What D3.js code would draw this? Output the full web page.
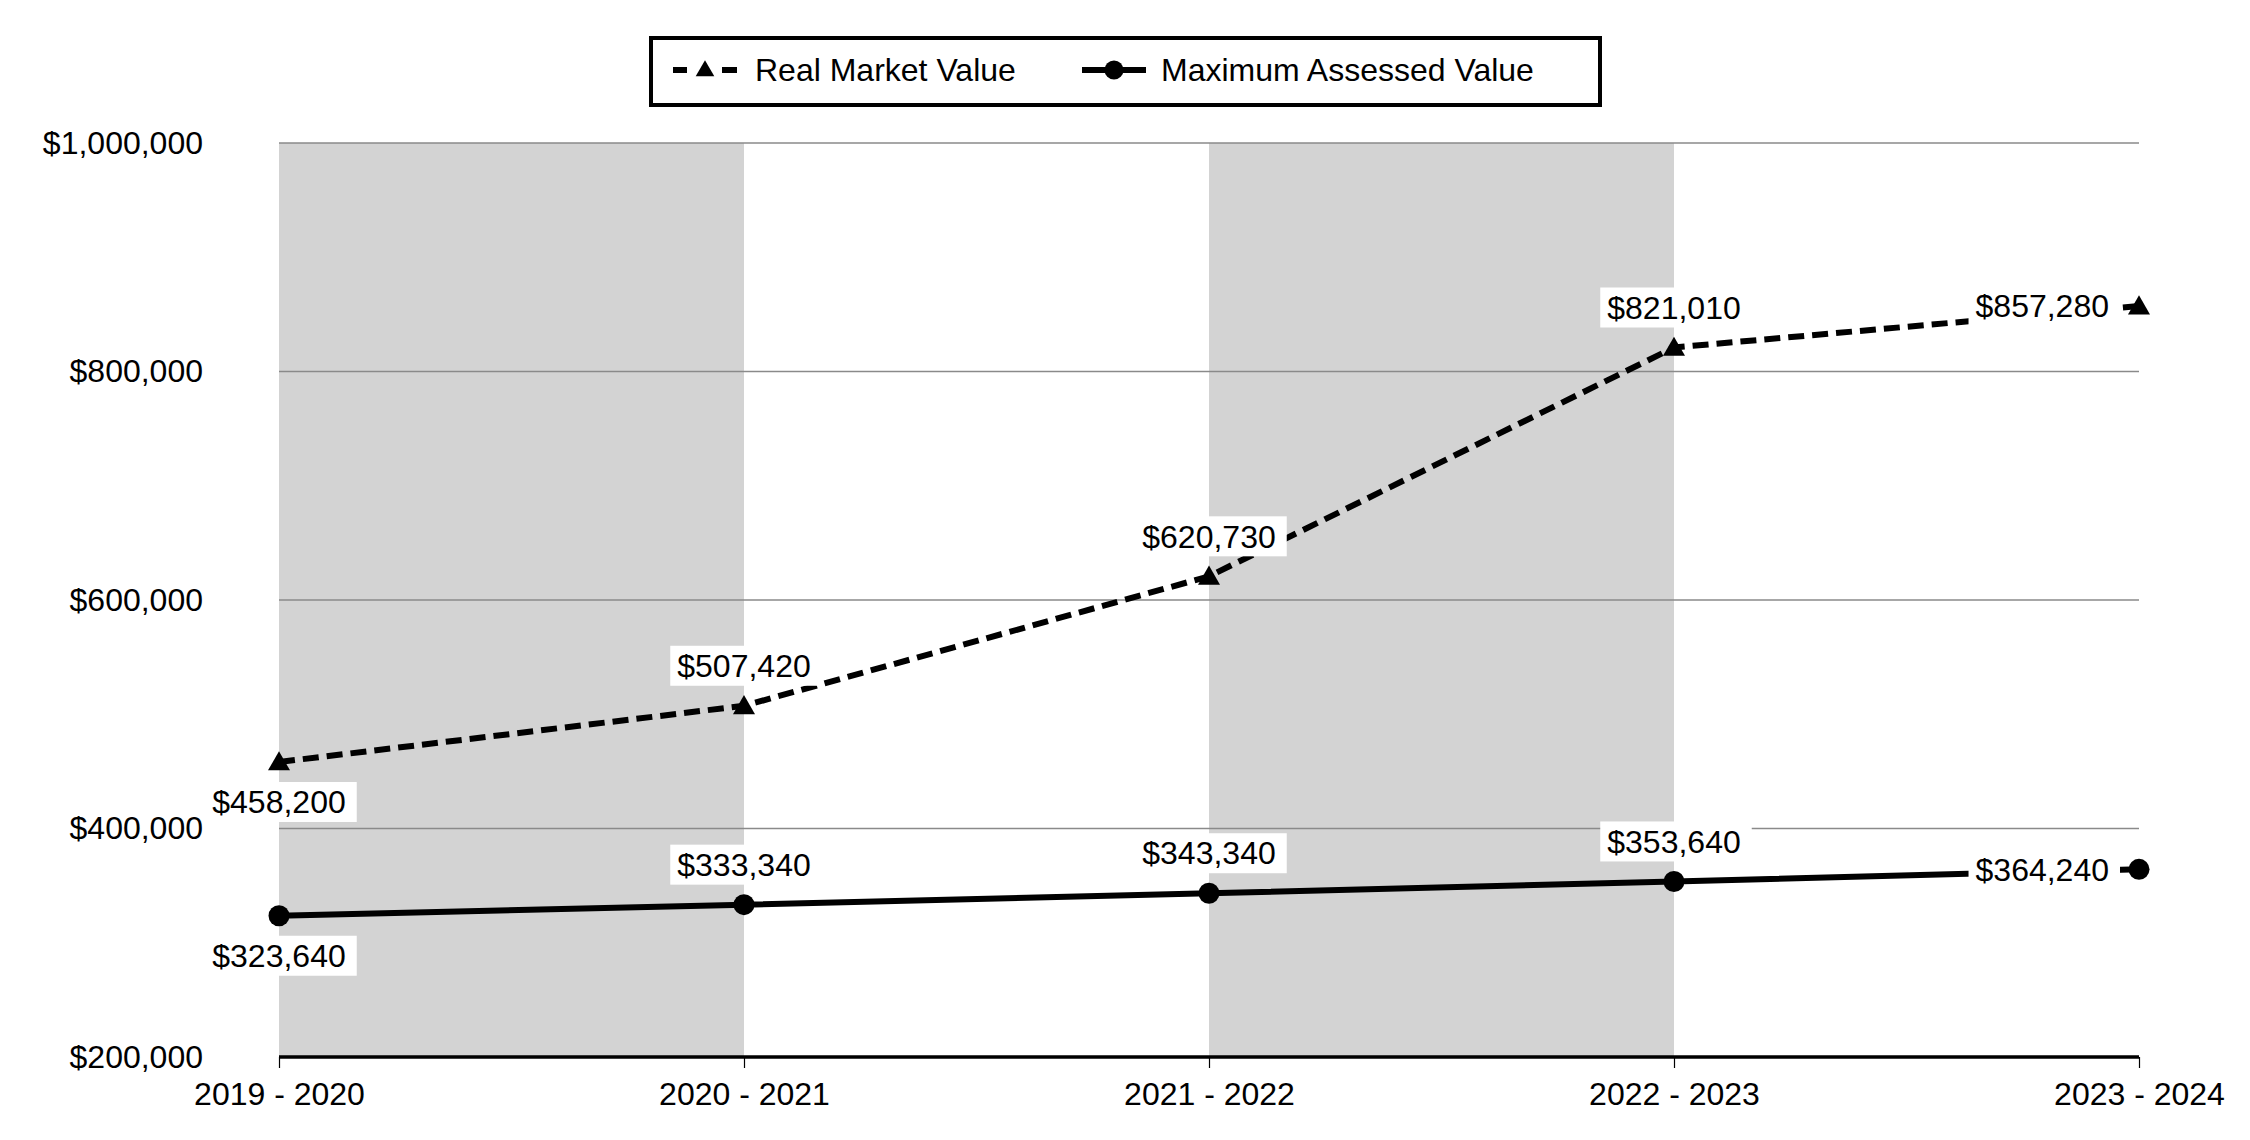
<!DOCTYPE html>
<html>
<head>
<meta charset="utf-8">
<script src="https://cdn.jsdelivr.net/npm/d3@7"></script>
<style>
  html, body { margin: 0; padding: 0; background: #fff; }
  svg { display: block; font-family: "Liberation Sans", Arial, sans-serif; }
</style>
</head>
<body>
<svg id="chart" width="2250" height="1140"></svg>
<script>
const categories = ["2019 - 2020", "2020 - 2021", "2021 - 2022", "2022 - 2023", "2023 - 2024"];
const realMarketValue = [458200, 507420, 620730, 821010, 857280];
const maxAssessedValue = [323640, 333340, 343340, 353640, 364240];
const yTicks = [200000, 400000, 600000, 800000, 1000000];
const shadedBands = [["2019 - 2020", "2020 - 2021"], ["2021 - 2022", "2022 - 2023"]];
const seriesNames = ["Real Market Value", "Maximum Assessed Value"];

(function () {
const svg = d3.select("#chart");
const pLeft = 279, pRight = 2139, pTop = 143, pBottom = 1057;
const FS = 32;

const x = d3.scalePoint().domain(categories).range([pLeft, pRight]).padding(0);
const y = d3.scaleLinear().domain([200000, 1000000]).range([pBottom, pTop]);
const money = v => "$" + d3.format(",")(v);

// shaded bands
svg.append("g").selectAll("rect").data(shadedBands).join("rect")
  .attr("x", d => x(d[0])).attr("width", d => x(d[1]) - x(d[0]))
  .attr("y", pTop).attr("height", pBottom - pTop)
  .attr("fill", "#d3d3d3");

// gridlines
svg.append("g").selectAll("line").data(yTicks.filter(t => t > 200000)).join("line")
  .attr("x1", pLeft).attr("x2", pRight)
  .attr("y1", d => y(d)).attr("y2", d => y(d))
  .attr("stroke", "#8a8a8a").attr("stroke-width", 1.6);

// y axis labels
const yAxis = d3.axisLeft(y).tickValues(yTicks).tickFormat(money).tickSize(0).tickPadding(76);
const gy = svg.append("g").attr("transform", `translate(${pLeft},0)`).call(yAxis);
gy.select(".domain").remove();
gy.selectAll("text").attr("font-size", FS).attr("fill", "#000")
  .attr("font-family", "Liberation Sans, Arial, sans-serif");

// x axis
const xAxis = d3.axisBottom(x).tickSize(11).tickPadding(14);
const gx = svg.append("g").attr("transform", `translate(0,${pBottom})`).call(xAxis);
gx.select(".domain").attr("stroke", "#000").attr("stroke-width", 3.5).attr("d", `M${pLeft},0H${pRight}`);
gx.selectAll(".tick line").attr("stroke", "#000").attr("stroke-width", 1.2);
gx.selectAll("text").attr("font-size", FS).attr("fill", "#000")
  .attr("font-family", "Liberation Sans, Arial, sans-serif");

// lines
const line = d3.line().x((d, i) => x(categories[i])).y(d => y(d));
svg.append("path").datum(realMarketValue).attr("d", line)
  .attr("fill", "none").attr("stroke", "#000").attr("stroke-width", 6)
  .attr("stroke-dasharray", "16,8");
svg.append("path").datum(maxAssessedValue).attr("d", line)
  .attr("fill", "none").attr("stroke", "#000").attr("stroke-width", 6);

// markers
const tri = d3.symbol().type(d3.symbolTriangle).size(210);
svg.append("g").selectAll("path").data(realMarketValue).join("path")
  .attr("d", tri)
  .attr("transform", (d, i) => `translate(${x(categories[i])},${y(d) + 2})`)
  .attr("fill", "#000");
svg.append("g").selectAll("circle").data(maxAssessedValue).join("circle")
  .attr("cx", (d, i) => x(categories[i])).attr("cy", d => y(d)).attr("r", 10.5)
  .attr("fill", "#000");

// data labels
function addLabels(values) {
  const n = values.length;
  values.forEach((v, i) => {
    const px = x(categories[i]), py = y(v);
    const g = svg.append("g");
    const t = g.append("text").text(money(v)).attr("font-size", FS).attr("fill", "#000")
      .attr("dy", "0.35em");
    let tx, ty, anchor;
    if (i === 0) { tx = px; ty = py + 40; anchor = "middle"; }
    else if (i === n - 1) { tx = px - 30; ty = py; anchor = "end"; }
    else { tx = px; ty = py - 40; anchor = "middle"; }
    t.attr("x", tx).attr("y", ty).attr("text-anchor", anchor);
    const w = t.node().getComputedTextLength();
    const tl = anchor === "middle" ? tx - w / 2 : tx - w;
    g.insert("rect", "text")
      .attr("x", tl - 7).attr("width", w + 18)
      .attr("y", ty - 20).attr("height", 40)
      .attr("fill", "#fff");
  });
}
addLabels(realMarketValue);
addLabels(maxAssessedValue);

// legend
const lg = svg.append("g");
lg.append("rect").attr("x", 651).attr("y", 38).attr("width", 949).attr("height", 67)
  .attr("fill", "#fff").attr("stroke", "#000").attr("stroke-width", 4);
const ly = 70;
[[673, 687], [722, 737]].forEach(s => {
  lg.append("line").attr("x1", s[0]).attr("x2", s[1]).attr("y1", ly).attr("y2", ly)
    .attr("stroke", "#000").attr("stroke-width", 6);
});
lg.append("path").attr("d", d3.symbol().type(d3.symbolTriangle).size(150))
  .attr("transform", `translate(705,${ly + 1})`).attr("fill", "#000");
lg.append("text").attr("x", 755).attr("y", ly).attr("dy", "0.35em")
  .attr("font-size", FS).text(seriesNames[0]);
lg.append("line").attr("x1", 1082).attr("x2", 1146).attr("y1", ly).attr("y2", ly)
  .attr("stroke", "#000").attr("stroke-width", 6);
lg.append("circle").attr("cx", 1114).attr("cy", ly).attr("r", 9.5).attr("fill", "#000");
lg.append("text").attr("x", 1161).attr("y", ly).attr("dy", "0.35em")
  .attr("font-size", FS).text(seriesNames[1]);
})();
</script>
</body>
</html>
